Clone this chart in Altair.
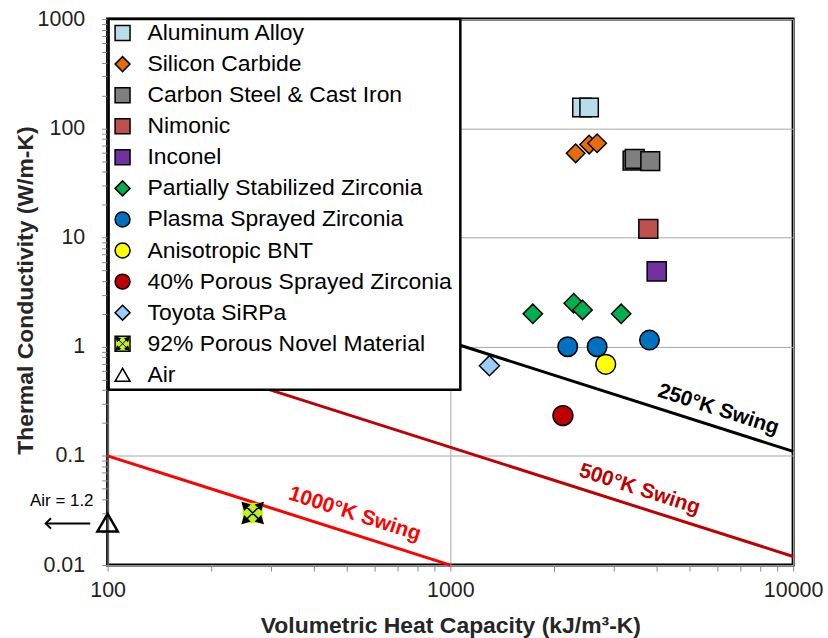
import altair as alt
import pandas as pd

# ---------------- data ----------------
series_order = [
    "Aluminum Alloy", "Silicon Carbide", "Carbon Steel & Cast Iron", "Nimonic",
    "Inconel", "Partially Stabilized Zirconia", "Plasma Sprayed Zirconia",
    "Anisotropic BNT", "40% Porous Sprayed Zirconia", "Toyota SiRPa",
    "92% Porous Novel Material", "Air",
]
series_fill = ["#b7dee8", "#e46c0a", "#7f7f7f", "#c0504d", "#7030a0", "#00b050",
               "#0070c0", "#ffff00", "#c00000", "#99ccff", "#c0f020", "rgba(0,0,0,0)"]
series_shape = ["square", "diamond", "square", "square", "square", "diamond",
                "circle", "circle", "circle", "diamond", "square", "triangle-up"]
series_size = [340, 420, 340, 340, 340, 420, 335, 430, 350, 640, 576, 840]

material = [
    "Aluminum Alloy", "Aluminum Alloy",
    "Silicon Carbide", "Silicon Carbide", "Silicon Carbide",
    "Carbon Steel & Cast Iron", "Carbon Steel & Cast Iron", "Carbon Steel & Cast Iron",
    "Nimonic", "Inconel",
    "Partially Stabilized Zirconia", "Partially Stabilized Zirconia",
    "Partially Stabilized Zirconia", "Partially Stabilized Zirconia",
    "Plasma Sprayed Zirconia", "Plasma Sprayed Zirconia", "Plasma Sprayed Zirconia",
    "Anisotropic BNT", "40% Porous Sprayed Zirconia", "Toyota SiRPa",
    "92% Porous Novel Material", "Air",
]
heat_capacity = [2420, 2540, 2320, 2540, 2680, 3400, 3450, 3830, 3780, 4000,
                 1740, 2290, 2430, 3150, 2200, 2680, 3810, 2840, 2130, 1300, 265, 100]
conductivity = [155, 155, 59, 71, 73, 50.5, 52.5, 50, 12, 4.9,
                2.0, 2.5, 2.17, 2.0, 1.0, 1.0, 1.15, 0.69, 0.234, 0.67, 0.03, 0.0245]

swing_label = ["250°K Swing", "500°K Swing", "1000°K Swing"]
swing_color = ["#000000", "#c00000", "#ff0000"]
swing_x1 = [100, 100, 100]
swing_y1 = [11, 1.2, 0.1]
swing_x2 = [10000, 10000, 1000]
swing_y2 = [0.11, 0.012, 0.01]
swing_label_x = [6050, 3565, 526]
swing_label_y = [0.265, 0.0493, 0.0292]

x_major = [100, 1000, 10000]
y_major = [0.01, 0.1, 1, 10, 100, 1000]
minor_mult = [2, 3, 4, 5, 6, 7, 8, 9]

air_note = "Air = 1.2"
air_note_x = [73.5]
air_note_y = [0.0384]
air_arrow_x1 = [66]
air_arrow_x2 = [89]
air_arrow_y = [0.0241]

# ---------------- tables ----------------
df = pd.DataFrame({"material": material, "C": heat_capacity, "k": conductivity})
leg_df = pd.DataFrame({"material": series_order})
box_df = pd.DataFrame({"box": [1]})
lines = pd.DataFrame({"swing": swing_label, "x1": swing_x1, "y1": swing_y1,
                      "x2": swing_x2, "y2": swing_y2,
                      "lx": swing_label_x, "ly": swing_label_y})
note = pd.DataFrame({"t": [air_note], "x": air_note_x, "y": air_note_y})
arrow = pd.DataFrame({"x1": air_arrow_x1, "x2": air_arrow_x2, "y": air_arrow_y})

x_vals = [d * m for d in x_major[:-1] for m in [1] + minor_mult] + [x_major[-1]]
y_vals = [d * m for d in y_major[:-1] for m in [1] + minor_mult] + [y_major[-1]]

FONT = "Liberation Sans"
major_test = "abs(log(datum.value)/LN10 - round(log(datum.value)/LN10)) < 0.001"
lab_expr = f"({major_test}) ? format(datum.value, '~g') : ''"

x_scale = alt.Scale(type="log", domain=[100, 10000])
y_scale = alt.Scale(type="log", domain=[0.01, 1000])

x_axis = alt.Axis(
    orient="bottom",
    values=x_vals, labelExpr=lab_expr, grid=True, gridColor="#a6a6a6", gridWidth=1,
    gridOpacity={"condition": {"test": major_test, "value": 1}, "value": 0},
    tickSize=6, tickColor="#888888", domain=False, labelFont=FONT, labelFontSize=21.5,
    labelColor="#222222", labelPadding=8, labelFlush=False,
    title="Volumetric Heat Capacity (kJ/m³-K)", titleFont=FONT, titleFontSize=23,
    titleFontWeight="bold", titleColor="#262626", titleY=50, titleX=344,
)
y_axis = alt.Axis(
    orient="left",
    values=y_vals, labelExpr=lab_expr, grid=True, gridColor="#a6a6a6", gridWidth=1,
    gridOpacity={"condition": {"test": major_test, "value": 1}, "value": 0},
    tickSize=6, tickColor="#888888", domain=False, labelFont=FONT, labelFontSize=21.5,
    labelColor="#222222", labelPadding=17, labelFlush=False,
    title="Thermal Conductivity (W/m-K)", titleFont=FONT, titleFontSize=23,
    titleFontWeight="bold", titleColor="#262626", titleX=-75, titleY=272,
    titleBaseline="alphabetic", titleAngle=270,
)


def yq(field):
    return alt.Y(field, scale=y_scale, axis=None)


X = alt.X("C:Q", scale=x_scale, axis=x_axis)

fill_enc = alt.Fill("material:N", scale=alt.Scale(domain=series_order, range=series_fill),
                    legend=None)
shape_enc = alt.Shape("material:N", scale=alt.Scale(domain=series_order, range=series_shape),
                      legend=None)
size_enc = alt.Size("msize:N", scale=alt.Scale(domain=series_order, range=series_size),
                    legend=None)

base = alt.Chart(df).transform_calculate(msize="datum.material")

# swing lines (one layer per line, constant colours)
line_layers = []
for lab, col in zip(swing_label, swing_color):
    sel = alt.Chart(lines).transform_filter(alt.datum.swing == lab)
    line_layers.append(sel.mark_rule(strokeWidth=3, color=col).encode(
        x=alt.X("x1:Q", scale=x_scale, axis=x_axis), y=yq("y1:Q"),
        x2="x2:Q", y2="y2:Q"))
    line_layers.append(sel.mark_text(
        font=FONT, fontSize=21, fontWeight="bold", angle=17.7, align="center",
        baseline="middle", color=col
    ).encode(x=alt.X("lx:Q", scale=x_scale), y=yq("ly:Q"), text="swing:N"))

# points (this layer carries the y axis)
main_pts = base.transform_filter(
    "datum.material != 'Air' && datum.material != '92% Porous Novel Material'"
).mark_point(filled=True, stroke="black", strokeWidth=1.5, opacity=1).encode(
    x=X, y=alt.Y("k:Q", scale=y_scale, axis=y_axis),
    fill=fill_enc, shape=shape_enc, size=size_enc)

novel_pts = base.transform_filter(
    "datum.material == '92% Porous Novel Material'"
).mark_point(filled=True, strokeWidth=0, opacity=1).encode(
    x=X, y=yq("k:Q"), fill=fill_enc, shape=shape_enc, size=size_enc)

arrows_path = ("M-0.62,-0.62L0.62,0.62M-0.62,0.62L0.62,-0.62"
               "M-0.92,-0.92L-0.3,-0.74L-0.74,-0.3Z"
               "M0.92,-0.92L0.3,-0.74L0.74,-0.3Z"
               "M0.92,0.92L0.3,0.74L0.74,0.3Z"
               "M-0.92,0.92L-0.3,0.74L-0.74,0.3Z")
novel_arrows = base.transform_filter(
    "datum.material == '92% Porous Novel Material'"
).mark_point(shape=arrows_path, filled=True, fill="black", stroke="black",
             strokeWidth=1.5, size=500, opacity=1).encode(x=X, y=yq("k:Q"))

air_pts = base.transform_filter("datum.material == 'Air'").mark_point(
    filled=True, stroke="black", strokeWidth=2.5, opacity=1
).encode(x=X, y=yq("k:Q"), fill=fill_enc, shape=shape_enc, size=size_enc)

# air annotation
note_text = alt.Chart(note).mark_text(font=FONT, fontSize=17, color="black",
                                       align="center", baseline="middle").encode(
    x=alt.X("x:Q", scale=x_scale), y=yq("y:Q"), text="t:N")
arrow_line = alt.Chart(arrow).mark_rule(color="black", strokeWidth=2).encode(
    x=alt.X("x1:Q", scale=x_scale), x2="x2:Q", y=yq("y:Q"))
arrow_head = alt.Chart(arrow).mark_point(
    shape="M1,-1L0,0L1,1", filled=False, stroke="black", strokeWidth=2, size=110, opacity=1
).encode(x=alt.X("x1:Q", scale=x_scale), y=yq("y:Q"))

# legend (drawn as layers: box, symbols, labels)
leg_row = alt.Y("material:N", axis=None,
                scale=alt.Scale(type="point", domain=series_order, range=[14, 357], padding=0))
leg_box = alt.Chart(box_df).mark_rect(fill="white", stroke="black", strokeWidth=2.5).encode(
    x=alt.value(1), x2=alt.value(354), y=alt.value(0), y2=alt.value(372))
leg_sym = alt.Chart(leg_df).mark_point(filled=True, stroke="black", strokeWidth=1.5,
                                       size=225, opacity=1).encode(
    x=alt.value(15), y=leg_row, fill=fill_enc, shape=shape_enc)
leg_arrows = alt.Chart(leg_df).transform_filter(
    "datum.material == '92% Porous Novel Material'"
).mark_point(shape=arrows_path, filled=True, fill="black", stroke="black",
             strokeWidth=1, size=200, opacity=1).encode(x=alt.value(15), y=leg_row)
leg_txt = alt.Chart(leg_df).mark_text(font=FONT, fontSize=23, color="black",
                                      align="left", baseline="middle").encode(
    x=alt.value(40), y=leg_row, text="material:N")

chart = alt.layer(
    *line_layers, main_pts, novel_pts, novel_arrows, air_pts,
    note_text, arrow_line, arrow_head, leg_box, leg_sym, leg_arrows, leg_txt,
).resolve_scale(y="independent").properties(
    width=688, height=548,
    padding={"left": 14, "top": 7, "right": 5, "bottom": 5},
).configure_view(stroke="black", strokeWidth=3)

chart.save("out.html", embed_options={"renderer": "svg", "actions": False})
